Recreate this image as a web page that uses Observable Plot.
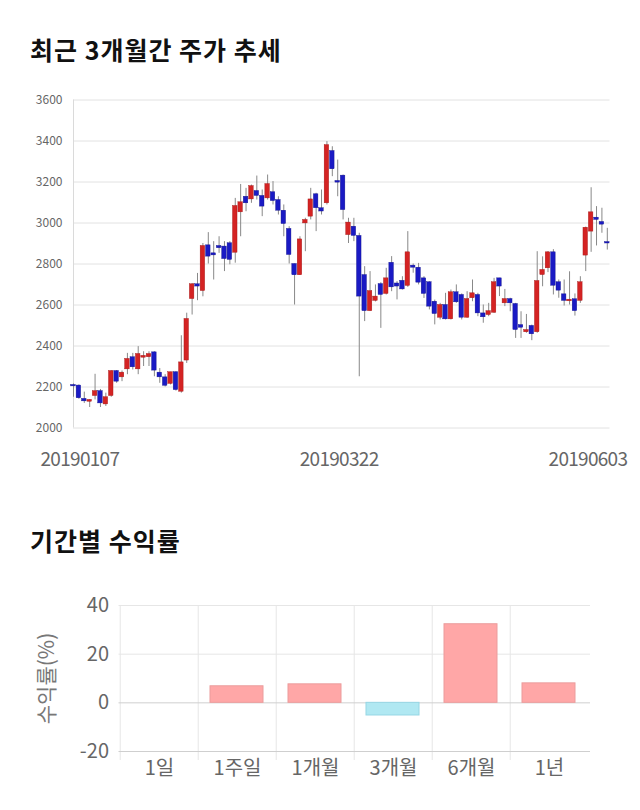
<!DOCTYPE html>
<html><head><meta charset="utf-8">
<script src="https://cdn.jsdelivr.net/npm/d3@7"></script>
<script src="https://cdn.jsdelivr.net/npm/@observablehq/plot@0.6"></script>
<style>
body{margin:0;background:#fff;width:640px;height:810px;position:relative;overflow:hidden;font-family:"Noto Sans CJK KR",sans-serif;}
.title{position:absolute;left:30px;font-weight:700;font-size:25px;letter-spacing:1px;line-height:1;color:#111;white-space:nowrap;}
#c1{position:absolute;left:0;top:80px;}
#c2{position:absolute;left:0;top:585px;}
</style></head><body>
<div class="title" style="top:37px">최근 3개월간 주가 추세</div>
<div class="title" style="top:528px">기간별 수익률</div>
<div id="c1"></div><div id="c2"></div>
<script>
// ---- Stock candles (daily, 2019-01-07 .. 2019-06-03) ----
const openP  = [2210,2207,2142,2128,2156,2180,2115,2156,2278,2247,2286,2345,2286,2343,2345,2369,2270,2247,2215,2272,
                2177,2329,2629,2701,2668,2891,2852,2888,2885,2901,2855,3052,3128,3115,3156,3132,3120,3150,3112,3060,
                2971,2800,2745,2998,3031,3140,3072,3096,3351,3205,3231,2941,2982,2937,2746,2570,2620,2702,2654,2806,
                2705,2718,2693,2792,2782,2730,2711,2616,2538,2600,2530,2662,2649,2538,2633,2649,2559,2551,2562,2730,
                2608,2629,2605,2502,2467,2498,2467,2746,2779,2857,2711,2652,2618,2628,2620,2841,2958,3026,3005,2907];
const highP  = [2215,2210,2175,2138,2262,2188,2170,2280,2280,2278,2364,2364,2397,2372,2372,2372,2290,2260,2272,2275,
                2450,2560,2705,2754,2900,2953,2909,2933,2909,2909,3120,3188,3169,3185,3229,3161,3234,3202,3128,3088,
                2982,2800,2933,3023,3169,3145,3161,3397,3372,3307,3234,3023,3023,2950,2787,2763,2698,2709,2779,2836,
                2714,2738,2958,2800,2803,2738,2714,2624,2608,2657,2673,2698,2654,2665,2722,2657,2600,2608,2730,2730,
                2676,2633,2608,2567,2554,2502,2860,2835,2860,2870,2722,2722,2762,2654,2738,2980,3172,3080,3072,2974];
const lowP   = [2150,2140,2120,2100,2137,2100,2105,2150,2218,2226,2260,2283,2260,2300,2300,2250,2218,2200,2210,2180,
                2170,2315,2551,2621,2640,2800,2722,2852,2763,2796,2804,2933,3055,3096,3112,3031,3112,3088,3039,2933,
                2800,2600,2745,2860,3015,2958,3039,3088,3226,3128,3015,2900,2909,2250,2519,2568,2615,2486,2649,2665,
                2625,2673,2686,2755,2698,2632,2576,2503,2527,2527,2527,2608,2527,2535,2616,2543,2511,2543,2559,2641,
                2592,2567,2437,2437,2462,2426,2462,2689,2758,2649,2633,2595,2600,2546,2608,2763,2857,2888,2950,2868];
const closeP = [2203,2145,2130,2137,2180,2120,2150,2278,2226,2270,2337,2296,2361,2352,2361,2280,2247,2206,2272,2185,
                2320,2532,2701,2690,2888,2836,2842,2877,2824,2820,3083,3101,3096,3180,3132,3080,3190,3107,3060,2995,
                2844,2745,2920,3015,3115,3072,3056,3380,3262,3197,3063,3002,2937,2641,2570,2668,2641,2649,2730,2686,
                2690,2676,2857,2782,2709,2654,2592,2556,2600,2530,2662,2613,2538,2629,2657,2559,2540,2570,2711,2690,
                2629,2608,2478,2489,2478,2457,2717,2771,2857,2694,2670,2620,2626,2570,2711,2977,3052,3015,2992,2900];
const priceTicks = [2000,2200,2400,2600,2800,3000,3200,3400,3600];
const dateTickIdx = [0, 50, 99];
const dateTickLabels = ["20190107","20190322","20190603"];

// ---- Period returns ----
const periods = ["1일","1주일","1개월","3개월","6개월","1년"];
const returns = [0, 6.8, 7.6, -5.2, 32.3, 8.0];
const returnTicks = [-20, 0, 20, 40];

const FONT = '"Noto Sans CJK KR", Roboto, sans-serif';
const UP = "#d42323", DOWN = "#1a1ac4";
const plain = d => String(d);

const candles = openP.map((o, i) => ({i, open: o, high: highP[i], low: lowP[i], close: closeP[i]}));
const last = candles.length - 1;

const chart1 = Plot.plot({
  width: 640, height: 393,
  marginTop: 19.5, marginBottom: 45.5, marginLeft: 73, marginRight: 30.5,
  style: {fontFamily: FONT, background: "#fff", overflow: "visible"},
  x: {domain: [0, last + 0.5], axis: null},
  y: {domain: [2000, 3600], axis: null},
  marks: [
    Plot.gridY(priceTicks, {stroke: "#e2e2e2", strokeOpacity: 1}),
    Plot.ruleX([0], {stroke: "#dadada"}),
    Plot.axisY(priceTicks, {tickSize: 0, tickPadding: 11, fontSize: 12, fill: "#666", label: null, tickFormat: plain}),
    Plot.ruleX(candles, {x: "i", y1: "low", y2: "high", stroke: "#888", strokeWidth: 1}),
    Plot.rect(candles, {
      x1: d => d.i - 0.42, x2: d => d.i + 0.42,
      y1: d => Math.min(d.open, d.close), y2: d => Math.max(d.open, d.close),
      fill: d => d.close >= d.open ? UP : DOWN,
      stroke: d => d.close >= d.open ? "#a01515" : "#10108a", strokeWidth: 0.4
    }),
    ...dateTickIdx.map((idx, k) => Plot.text([idx], {
      x: d => d, text: () => dateTickLabels[k],
      frameAnchor: "bottom", lineAnchor: "middle", dy: 32,
      textAnchor: idx === 0 ? "start" : idx === last ? "end" : "middle",
      dx: idx === 0 ? -33 : idx === last ? 20 : -4,
      fontSize: 19, fill: "#666"
    }))
  ]
});
chart1.querySelectorAll("text").forEach(t => { if (/^2019/.test(t.textContent)) t.setAttribute("letter-spacing", "-0.7"); });
document.getElementById("c1").appendChild(chart1);

const rows = periods.map((p, i) => ({period: p, ret: returns[i]}));
const W2 = 640, ML2 = 118.5, MR2 = 50;
const bw = (W2 - ML2 - MR2) / periods.length;

const chart2 = Plot.plot({
  width: W2, height: 206,
  marginTop: 20, marginBottom: 40, marginLeft: ML2, marginRight: MR2,
  style: {fontFamily: FONT, background: "#fff", overflow: "visible"},
  x: {domain: periods, padding: 0, axis: null},
  y: {domain: [-20, 40], axis: null},
  marks: [
    Plot.gridY(returnTicks.filter(t => t > 0), {stroke: "#e6e6e6", strokeOpacity: 1}),
    Plot.ruleX(periods, {x: d => d, dx: -bw / 2, stroke: "#e6e6e6", insetBottom: -9}),
    Plot.ruleY(returnTicks.filter(t => t <= 0), {stroke: "#cfcfcf"}),
    Plot.barY(rows.filter(d => d.ret !== 0), {
      x: "period", y: "ret",
      fill: d => d.ret >= 0 ? "#ffa7a7" : "#b0e8f2",
      stroke: d => d.ret >= 0 ? "#eb9c9c" : "#96d6e4", strokeWidth: 1,
      insetLeft: 12, insetRight: 13
    }),
    Plot.axisY(returnTicks, {tickSize: 0, tickPadding: 10, fontSize: 20, fill: "#666", label: null, tickFormat: plain}),
    Plot.axisX(periods, {tickSize: 0, tickPadding: 9, fontSize: 20, fill: "#666", label: null}),
    Plot.text(["수익률(%)"], {frameAnchor: "left", textAnchor: "middle", rotate: -90, dx: -72, fontSize: 21, fill: "#777"})
  ]
});
document.getElementById("c2").appendChild(chart2);
</script>
</body></html>
